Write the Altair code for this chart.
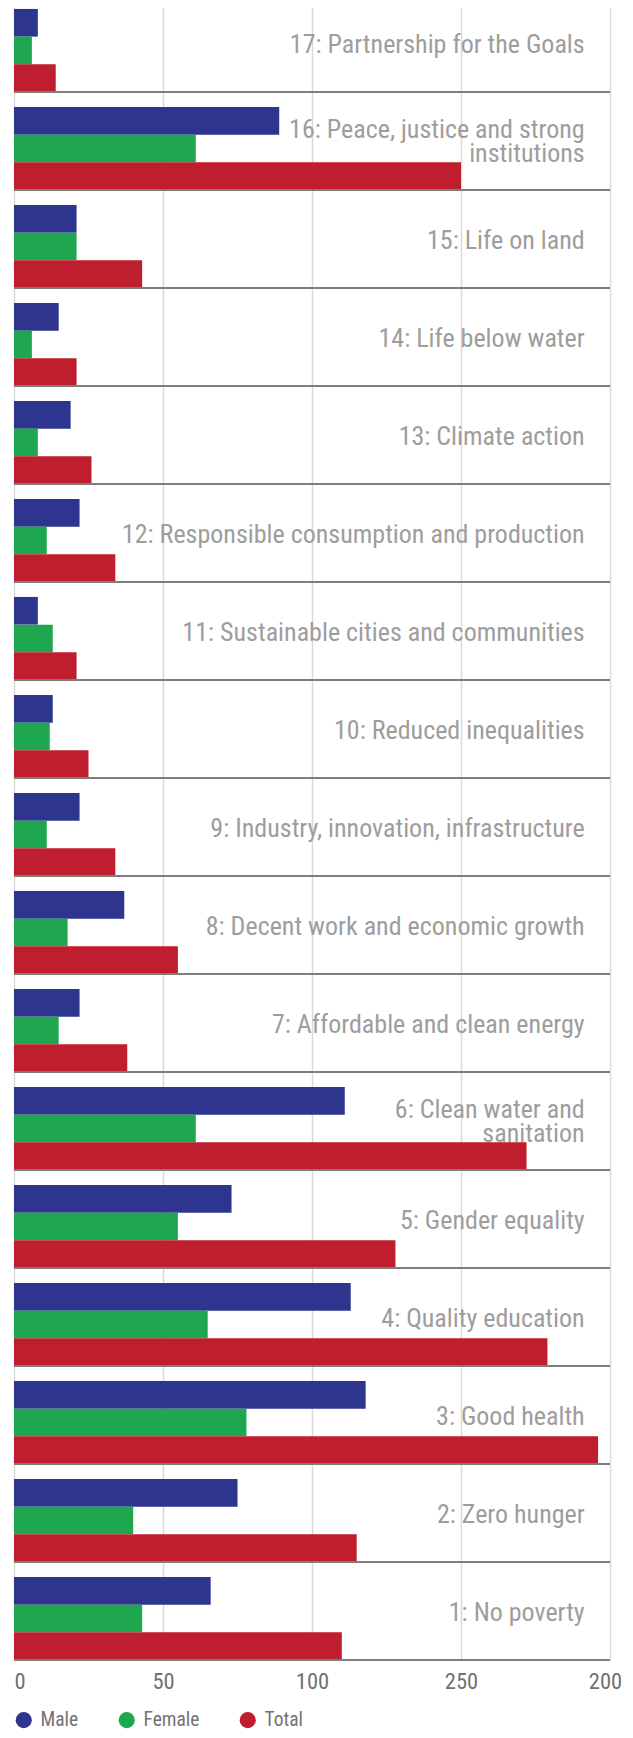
import json
import altair as alt
import pandas as pd

FONT = "Liberation Sans Narrow, Roboto Condensed, Roboto, sans-serif"

# Goals 1..17
goal_labels = [
    "1: No poverty",
    "2: Zero hunger",
    "3: Good health",
    "4: Quality education",
    "5: Gender equality",
    "6: Clean water and\nsanitation",
    "7: Affordable and clean energy",
    "8: Decent work and economic growth",
    "9: Industry, innovation, infrastructure",
    "10: Reduced inequalities",
    "11: Sustainable cities and communities",
    "12: Responsible consumption and production",
    "13: Climate action",
    "14: Life below water",
    "15: Life on land",
    "16: Peace, justice and strong\ninstitutions",
    "17: Partnership for the Goals",
]
male = [66, 75, 118, 113, 73, 111, 22, 37, 22, 13, 8, 22, 19, 15, 21, 89, 8]
female = [43, 40, 78, 65, 55, 61, 15, 18, 11, 12, 13, 11, 8, 6, 21, 61, 6]
total = [110, 115, 196, 179, 128, 172, 38, 55, 34, 25, 21, 34, 26, 21, 43, 150, 14]

series = ["Male", "Female", "Total"]
colors = ["#2e358f", "#1fa74f", "#be1e2d"]
tick_values = [0, 50, 100, 150, 200]
tick_labels = ["0", "50", "100", "250", "200"]
label_anchor = 191.5

rows = []
for i, g in enumerate(goal_labels):
    for s, vals in zip(series, [male, female, total]):
        rows.append({"goal": g, "series": s, "value": vals[i]})
df = pd.DataFrame(rows)
labels_df = pd.DataFrame({"goal": goal_labels})
order = goal_labels[::-1]

yscale = alt.Scale(domain=order, paddingInner=0, paddingOuter=0)
xscale = alt.Scale(domain=[0, 200], nice=False, zero=True)

label_expr = f"{json.dumps(tick_labels)}[indexof({json.dumps(tick_values)}, datum.value)]"

bars = alt.Chart(df).mark_bar().encode(
    x=alt.X(
        "value:Q",
        scale=xscale,
        axis=alt.Axis(
            values=tick_values,
            labelExpr=label_expr,
            grid=True,
            gridColor="#d9d9d9",
            gridWidth=1.5,
            domain=False,
            ticks=False,
            tickSize=0,
            labelFontSize=22.5,
            labelFont=FONT,
            labelColor="#707070",
            labelPadding=10,
            labelAlign={"condition": {"test": "datum.value == 0", "value": "left"}, "value": "center"},
            labelOffset={"condition": {"test": "datum.value == 200", "value": -5}, "value": 0},
            title=None,
        ),
    ),
    y=alt.Y("goal:N", scale=yscale, axis=None),
    yOffset=alt.YOffset(
        "series:N",
        scale=alt.Scale(domain=series, paddingInner=0, paddingOuter=0.27, align=1),
    ),
    color=alt.Color(
        "series:N",
        scale=alt.Scale(domain=series, range=colors),
        legend=alt.Legend(
            orient="none",
            legendX=0,
            legendY=1716,
            direction="horizontal",
            title=None,
            symbolType="circle",
            symbolSize=260,
            symbolStrokeWidth=0,
            symbolOpacity=1,
            labelFontSize=19.5,
            labelFont=FONT,
            labelColor="#737373",
            labelOffset=7,
            columnPadding=38,
        ),
    ),
)

rules = alt.Chart(labels_df).mark_rule(color="#7d7d7d", strokeWidth=2).encode(
    y=alt.Y("goal:N", scale=yscale, axis=None, bandPosition=1),
)

text_style = dict(
    align="right",
    baseline="middle",
    fontSize=26,
    font=FONT,
    color="#9d9d9d",
    lineBreak="\n",
    lineHeight=24,
)
text_enc = dict(
    y=alt.Y("goal:N", scale=yscale, axis=None),
    x=alt.datum(label_anchor),
    text="goal:N",
)

text_single = (
    alt.Chart(labels_df)
    .transform_filter("indexof(datum.goal, '\\n') < 0")
    .mark_text(dy=2, **text_style)
    .encode(**text_enc)
)
text_double = (
    alt.Chart(labels_df)
    .transform_filter("indexof(datum.goal, '\\n') >= 0")
    .mark_text(dy=-11, **text_style)
    .encode(**text_enc)
)

chart = (
    alt.layer(bars, rules, text_single, text_double)
    .properties(
        width=596,
        height=1666,
        padding={"left": 6, "top": -14, "right": 15, "bottom": 70},
        autosize=alt.AutoSizeParams(type="none"),
    )
    .configure_view(stroke=None)
)

chart.save("out.html", embed_options={"renderer": "svg", "actions": False})
